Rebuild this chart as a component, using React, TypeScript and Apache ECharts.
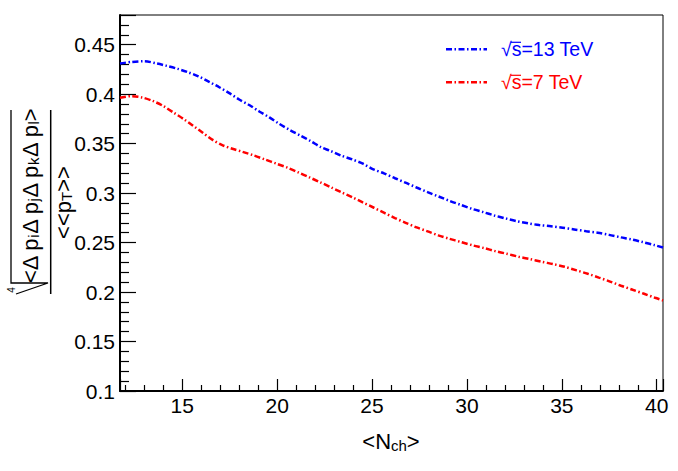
import React, { useEffect, useRef } from 'react';
import * as echarts from 'echarts';

// ---- data ----
const seriesNames = ['√s=13 TeV', '√s=7 TeV'];
const seriesColors = ['#0000ff', '#ff0000'];

const nch13 = [11.72, 12.3, 13.0, 13.65, 14.18, 14.76, 15.32, 15.85, 16.42, 16.95, 17.48, 18.0, 18.53, 19.06, 19.59, 20.11, 20.68, 21.24, 21.77, 22.3, 22.8, 23.36, 23.96, 24.49, 25.07, 25.63, 26.21, 26.83, 27.38, 27.96, 28.54, 29.11, 29.69, 30.25, 30.86, 31.44, 32.04, 32.62, 33.23, 33.81, 34.43, 35.04, 35.65, 36.29, 36.89, 37.49, 38.1, 38.68, 39.26, 39.87, 40.33];
const val13 = [0.431, 0.4325, 0.4333, 0.431, 0.4286, 0.4256, 0.422, 0.418, 0.4124, 0.407, 0.401, 0.3946, 0.389, 0.3825, 0.3765, 0.37, 0.3636, 0.358, 0.3525, 0.3465, 0.3427, 0.338, 0.334, 0.33, 0.324, 0.32, 0.315, 0.31, 0.3054, 0.3007, 0.2963, 0.292, 0.288, 0.2842, 0.2808, 0.2774, 0.2744, 0.2717, 0.2694, 0.2677, 0.2665, 0.265, 0.2633, 0.2615, 0.26, 0.2578, 0.2553, 0.2532, 0.2505, 0.2475, 0.245];

const nch7 = [11.72, 12.3, 12.9, 13.44, 14.0, 14.53, 15.06, 15.55, 16.08, 16.58, 17.11, 17.64, 18.18, 18.78, 19.36, 19.98, 20.56, 21.11, 21.69, 22.26, 22.82, 23.4, 23.98, 24.51, 25.1, 25.65, 26.21, 26.77, 27.35, 27.93, 28.49, 29.07, 29.69, 30.3, 30.91, 31.49, 32.09, 32.72, 33.32, 33.94, 34.55, 35.15, 35.78, 36.36, 36.95, 37.54, 38.12, 38.73, 39.33, 39.91, 40.33];
const val7 = [0.3963, 0.398, 0.3966, 0.3932, 0.388, 0.3815, 0.375, 0.3684, 0.361, 0.354, 0.3485, 0.3448, 0.3417, 0.338, 0.334, 0.3296, 0.3256, 0.321, 0.316, 0.311, 0.306, 0.3007, 0.2956, 0.2906, 0.2852, 0.28, 0.2747, 0.27, 0.2653, 0.2613, 0.2573, 0.2539, 0.2505, 0.2472, 0.2444, 0.2414, 0.2387, 0.2357, 0.2333, 0.2306, 0.2282, 0.2255, 0.2219, 0.2185, 0.2146, 0.2106, 0.2064, 0.2023, 0.1983, 0.1942, 0.1915];

const xRange = [11.72, 40.33];
const yRange = [0.1, 0.48];
const yStep = 0.05;
const xStep = 5;

export default function App() {
  const ref = useRef<HTMLDivElement>(null);
  useEffect(() => {
    document.body.style.margin = '0';
    const chart = echarts.init(ref.current as HTMLDivElement, null, { renderer: 'svg' });
    const font = '"Liberation Sans", Arial, Helvetica, sans-serif';
    const main = (size: number, color = '#000') => ({
      fontSize: size, lineHeight: size, fontFamily: font, verticalAlign: 'top', fill: color, color,
    });
    const sub = (size: number, pad: number, color = '#000') => ({
      fontSize: size, lineHeight: size, fontFamily: font, verticalAlign: 'bottom', padding: [pad, 0, 0, 0], fill: color, color,
    });
    const dash = [6, 2.5, 1.5, 2.5];
    const legendY = [49.3, 82.3];

    const legendEls: any[] = [];
    seriesNames.forEach((n, i) => {
      legendEls.push({
        type: 'line', silent: true,
        shape: { x1: 446, y1: legendY[i], x2: 487, y2: legendY[i] },
        style: { stroke: seriesColors[i], lineWidth: 2.5, lineDash: dash },
      });
      legendEls.push({
        type: 'text', silent: true, x: 501, y: legendY[i],
        style: { text: n, fontSize: 19.5, fontFamily: font, fill: seriesColors[i], align: 'left', verticalAlign: 'middle' },
      });
      legendEls.push({
        type: 'line', silent: true,
        shape: { x1: 511, y1: legendY[i] - 7, x2: 521, y2: legendY[i] - 7 },
        style: { stroke: seriesColors[i], lineWidth: 1.2 },
      });
    });

    const yTitle = {
      type: 'group', x: 0, y: 300, rotation: Math.PI / 2, silent: true,
      children: [
        {
          type: 'polyline',
          shape: { points: [[190, 11], [17, 11], [17, 48], [6, 16]] },
          style: { stroke: '#000', fill: null, lineWidth: 1.3 },
        },
        {
          type: 'line',
          shape: { x1: 6, y1: 50.7, x2: 190, y2: 50.7 },
          style: { stroke: '#000', lineWidth: 1.5 },
        },
        {
          type: 'text', x: 104, y: 19.3,
          style: {
            text: '{m|<Δ p}{s|i}{m|Δ p}{s|j}{m|Δ p}{s|k}{m|Δ p}{s|l}{m|>}',
            align: 'center', verticalAlign: 'top', fill: '#000',
            rich: { m: main(22), s: sub(15, 13) },
          },
        },
        {
          type: 'text', x: 97.5, y: 52,
          style: {
            text: '{m|<<p}{s|T}{m|>>}',
            align: 'center', verticalAlign: 'top', fill: '#000',
            rich: { m: main(22), s: sub(15, 13) },
          },
        },
        {
          type: 'text', x: 10, y: 11.7,
          style: { text: '4', fontSize: 10, fontFamily: font, fill: '#000', align: 'center', verticalAlign: 'middle' },
        },
      ],
    };

    const xTitle = {
      type: 'text', silent: true, x: 391, y: 430.7,
      style: {
        text: '{m|<N}{s|ch}{m|>}',
        align: 'center', verticalAlign: 'top', fill: '#000',
        rich: { m: main(22), s: sub(15, 13) },
      },
    };

    const isMultiple = (v: number, step: number) => Math.abs(v / step - Math.round(v / step)) < 1e-6;

    const option: any = {
      animation: false,
      backgroundColor: '#fff',
      grid: {
        left: 120, right: 15, top: 15, bottom: 80,
        containLabel: false, outerBoundsMode: 'none',
        show: true, borderColor: '#000', borderWidth: 1, backgroundColor: 'transparent',
      },
      xAxis: {
        type: 'value', min: xRange[0], max: xRange[1],
        axisLine: { show: true, onZero: false, lineStyle: { color: '#000', width: 2 } },
        axisTick: { show: true, inside: true, length: 12, lineStyle: { color: '#000', width: 1.2 } },
        minorTick: { show: true, splitNumber: 5, length: 6, lineStyle: { color: '#000', width: 1.2 } },
        splitLine: { show: false },
        minorSplitLine: { show: false },
        axisLabel: {
          color: '#000', fontSize: 21, fontFamily: font, margin: 4,
          formatter: (v: number) => (isMultiple(v, xStep) ? String(Math.round(v)) : ''),
        },
      },
      yAxis: {
        type: 'value', min: yRange[0], max: yRange[1], interval: yStep,
        axisLine: { show: true, onZero: false, lineStyle: { color: '#000', width: 2 } },
        axisTick: { show: true, inside: true, length: 16, lineStyle: { color: '#000', width: 1.2 } },
        minorTick: { show: true, splitNumber: 5, length: 9, lineStyle: { color: '#000', width: 1.2 } },
        splitLine: { show: false },
        minorSplitLine: { show: false },
        axisLabel: {
          color: '#000', fontSize: 21, fontFamily: font, margin: 5,
          formatter: (v: number) => (isMultiple(v, yStep) && v < 0.4501 ? String(Math.round(v * 100) / 100) : ''),
        },
      },
      series: [
        {
          type: 'line', name: seriesNames[0], data: nch13.map((x, i) => [x, val13[i]]),
          showSymbol: false, symbol: 'none', smooth: 0.3, clip: true, silent: true,
          lineStyle: { color: seriesColors[0], width: 2.5, type: dash },
        },
        {
          type: 'line', name: seriesNames[1], data: nch7.map((x, i) => [x, val7[i]]),
          showSymbol: false, symbol: 'none', smooth: 0.3, clip: true, silent: true,
          lineStyle: { color: seriesColors[1], width: 2.5, type: dash },
        },
      ],
      graphic: [...legendEls, yTitle, xTitle],
    };
    chart.setOption(option);
    return () => chart.dispose();
  }, []);
  return <div ref={ref} style={{ position: 'fixed', left: 0, top: 0, width: 678, height: 471, background: '#fff' }} />;
}
